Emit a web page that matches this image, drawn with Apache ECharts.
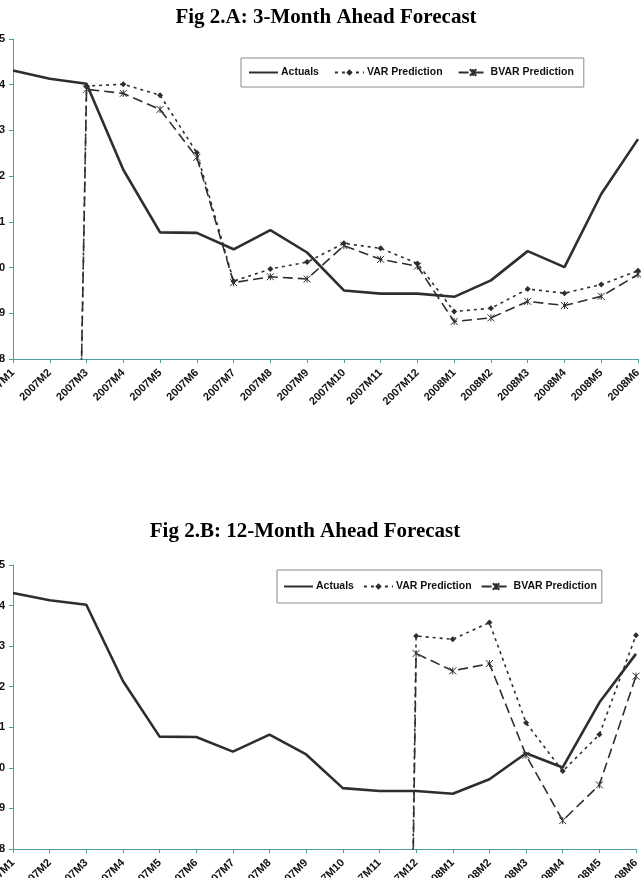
<!DOCTYPE html>
<html>
<head>
<meta charset="utf-8">
<script src="https://cdn.jsdelivr.net/npm/echarts@6/dist/echarts.min.js"></script>
<style>
  html, body { margin: 0; padding: 0; background: #fff; }
  #chart { width: 641px; height: 878px; }
</style>
</head>
<body>
<div id="chart"></div>
<script>
var months = ['2007M1','2007M2','2007M3','2007M4','2007M5','2007M6','2007M7','2007M8','2007M9',
  '2007M10','2007M11','2007M12','2008M1','2008M2','2008M3','2008M4','2008M5','2008M6'];
var yTicks = [8, 9, 10, 11, 12, 13, 14, 15];

var actuals = [14.31, 14.13, 14.02, 12.14, 10.77, 10.76, 10.40, 10.82, 10.33,
  9.50, 9.43, 9.43, 9.36, 9.72, 10.36, 10.01, 11.61, 12.81];

// 3-month ahead (the point before the first forecast sits far below the axis)
var var3 = [null, -30, 13.97, 14.01, 13.77, 12.51, 9.70, 9.97, 10.12,
  10.53, 10.42, 10.09, 9.04, 9.11, 9.53, 9.44, 9.63, 9.93];
var bvar3 = [null, -30, 13.90, 13.81, 13.46, 12.41, 9.67, 9.80, 9.75,
  10.48, 10.18, 10.03, 8.82, 8.90, 9.26, 9.17, 9.37, 9.85];

// 12-month ahead
var var12 = [null, null, null, null, null, null, null, null, null,
  null, -50, 13.25, 13.17, 13.58, 11.11, 9.92, 10.82, 13.27];
var bvar12 = [null, null, null, null, null, null, null, null, null,
  null, -50, 12.82, 12.39, 12.57, 10.31, 8.70, 9.58, 12.26];

var ink = '#2e2e2e';
var axisCol = '#4f9d9d';
var star = 'path://M0,0L8,8M8,0L0,8M4,0L4,8';

function xAxisOf(i) {
  return {
    gridIndex: i, type: 'category', data: months, boundaryGap: false,
    axisLine: { lineStyle: { color: axisCol, width: 1 } },
    axisTick: { length: 4, lineStyle: { color: axisCol } },
    axisLabel: { rotate: 45, margin: 12, fontSize: 11, fontWeight: 'bold',
      fontFamily: 'Liberation Sans, Arial', color: '#111', interval: 0 },
    splitLine: { show: false }
  };
}
function yAxisOf(i) {
  return {
    gridIndex: i, type: 'value', min: yTicks[0], max: yTicks[yTicks.length - 1], interval: 1,
    axisLine: { show: true, lineStyle: { color: axisCol, width: 1 } },
    axisTick: { show: true, length: 4, lineStyle: { color: axisCol } },
    axisLabel: { margin: 8, fontSize: 11, fontWeight: 'bold',
      fontFamily: 'Liberation Sans, Arial', color: '#111' },
    splitLine: { show: false }
  };
}
function seriesOf(i, act, v, b) {
  return [
    { name: 'Actuals', type: 'line', xAxisIndex: i, yAxisIndex: i, data: act,
      symbol: 'none', lineStyle: { color: ink, width: 2.6 }, itemStyle: { color: ink } },
    { name: 'VAR Prediction', type: 'line', xAxisIndex: i, yAxisIndex: i, data: v,
      symbol: 'diamond', symbolSize: 6, clip: true,
      lineStyle: { color: ink, width: 1.6, type: [3, 4] },
      itemStyle: { color: ink } },
    { name: 'BVAR Prediction', type: 'line', xAxisIndex: i, yAxisIndex: i, data: b,
      symbol: star, symbolSize: 7, clip: true,
      lineStyle: { color: ink, width: 1.6, type: [10, 5] },
      itemStyle: { color: ink, borderColor: ink, borderWidth: 1 } }
  ];
}
function legendOf(left, top, gap, pad) {
  return {
    left: left, top: top, padding: pad, itemGap: gap,
    itemWidth: 29, itemHeight: 8,
    borderColor: '#8a8a8a', borderWidth: 1, borderRadius: 0,
    data: [{ name: 'Actuals', itemStyle: { opacity: 0 } }, 'VAR Prediction', 'BVAR Prediction'],
    textStyle: { fontSize: 10.5, fontWeight: 'bold', fontFamily: 'Liberation Sans, Arial', color: '#111', padding: [0, 0, 0, -2] },
    selectedMode: false
  };
}

var chart = echarts.init(document.getElementById('chart'));
chart.setOption({
  animation: false,
  backgroundColor: '#fff',
  title: [
    { text: 'Fig 2.A: 3-Month Ahead Forecast', left: 326, top: 7, textAlign: 'center', padding: 0,
      textStyle: { fontFamily: 'Liberation Serif, Times New Roman', fontSize: 21, fontWeight: 'bold', color: '#000' } },
    { text: 'Fig 2.B: 12-Month Ahead Forecast', left: 305, top: 521, textAlign: 'center', padding: 0,
      textStyle: { fontFamily: 'Liberation Serif, Times New Roman', fontSize: 21, fontWeight: 'bold', color: '#000' } }
  ],
  legend: [
    legendOf(241, 58, 15, [9, 10, 9, 7]),
    legendOf(277, 570, 9, [11, 5, 11, 6])
  ],
  grid: [
    { left: 13, top: 39, width: 625, height: 320, outerBoundsMode: 'none', containLabel: false },
    { left: 13, top: 565, width: 623, height: 284, outerBoundsMode: 'none', containLabel: false }
  ],
  xAxis: [xAxisOf(0), xAxisOf(1)],
  yAxis: [yAxisOf(0), yAxisOf(1)],
  series: seriesOf(0, actuals, var3, bvar3).concat(seriesOf(1, actuals, var12, bvar12))
});
</script>
</body>
</html>
